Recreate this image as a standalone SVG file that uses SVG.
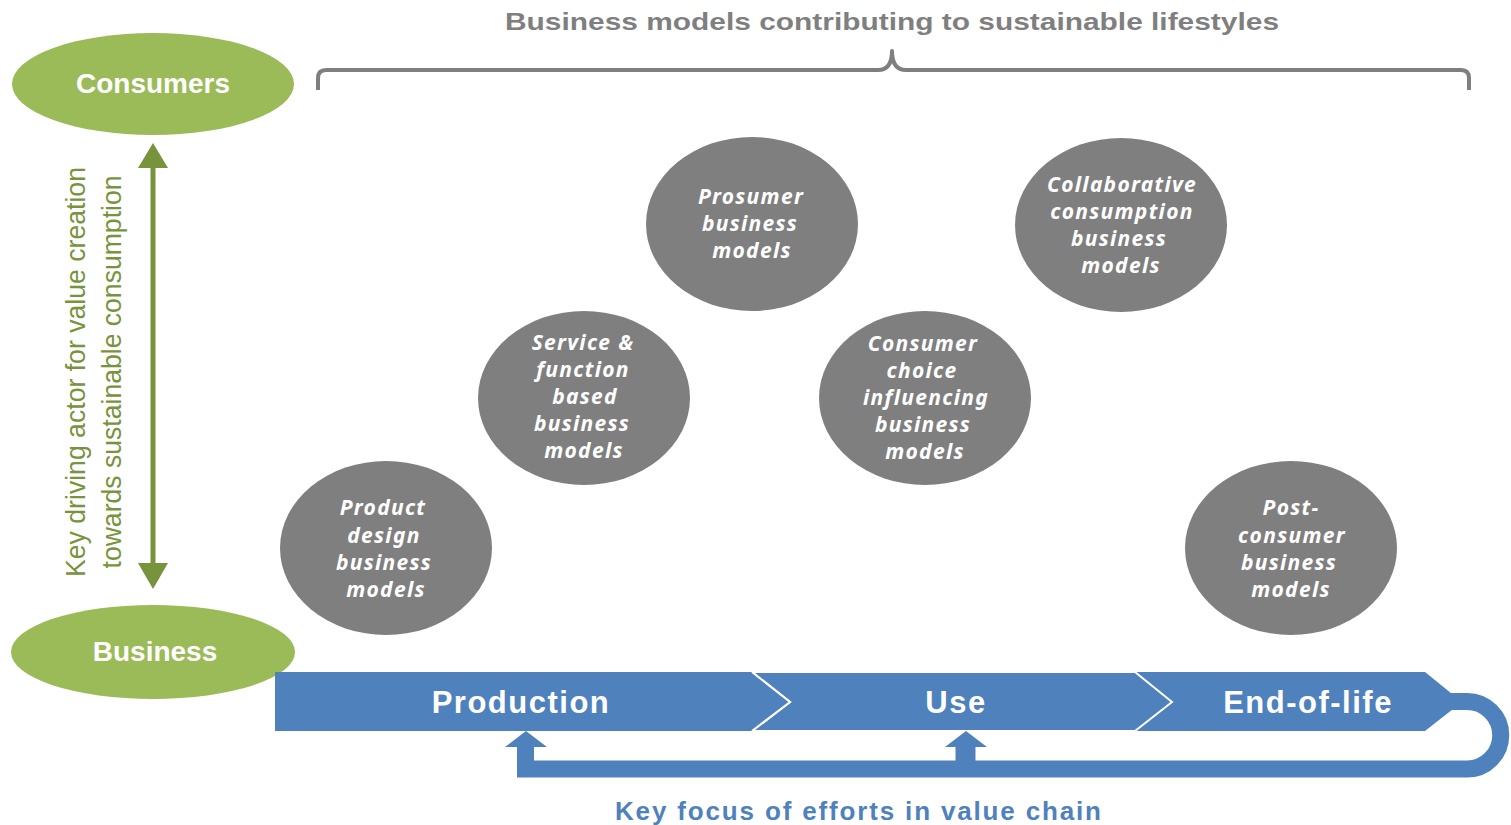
<svg xmlns="http://www.w3.org/2000/svg" width="1511" height="825" viewBox="0 0 1511 825">
<style>
.bg{fill:#ffffff}
.green{fill:#9bbb59}
.actor{font-family:"Liberation Sans",Arial,sans-serif;font-weight:bold;font-size:28px;fill:#ffffff;text-anchor:middle}
.circ{fill:#7f7f7f}
.ct{font-family:"Noto Sans","Open Sans",sans-serif;font-weight:bold;font-style:italic;font-size:21px;letter-spacing:1.3px;fill:#ffffff;text-anchor:middle}
.seg{fill:#4f81bd;stroke:#ffffff;stroke-width:2}
.st{font-family:"Liberation Sans",Arial,sans-serif;font-weight:bold;font-size:31px;fill:#ffffff;text-anchor:middle;letter-spacing:1.5px}
.vt{font-family:"Liberation Sans",Arial,sans-serif;font-size:27px;fill:#77933c;text-anchor:middle}
.band{fill:none;stroke:#4f81bd;stroke-width:17}
.bluehead{fill:#4f81bd}
</style>
<rect class="bg" x="0" y="0" width="1511" height="825"/>

<g id="title">
<text x="892" y="30" font-family="'Liberation Sans',Arial,sans-serif" font-weight="bold" font-size="24" fill="#7f7f7f" text-anchor="middle" textLength="774" lengthAdjust="spacingAndGlyphs">Business models contributing to sustainable lifestyles</text>
<path d="M318,90 V78 Q318,70 326,70 H878 Q892,70 892,51 Q892,70 906,70 H1461 Q1469,70 1469,78 V90" fill="none" stroke="#7f7f7f" stroke-width="4" stroke-linejoin="round"/>
</g>

<g id="consumers">
<ellipse class="green" cx="153" cy="84" rx="141" ry="51"/>
<text class="actor" x="153" y="93">Consumers</text>
</g>
<g id="business">
<ellipse class="green" cx="153" cy="652" rx="142" ry="47"/>
<text class="actor" x="155" y="661">Business</text>
</g>

<g id="actor-axis">
<line x1="153" y1="165" x2="153" y2="566" stroke="#77933c" stroke-width="5"/>
<polygon points="153,143 168,168 138,168" fill="#77933c"/>
<polygon points="153,589 168,563 138,563" fill="#77933c"/>
<text class="vt" transform="translate(85,372) rotate(-90)" textLength="410" lengthAdjust="spacingAndGlyphs">Key driving actor for value creation</text>
<text class="vt" transform="translate(121,372) rotate(-90)" textLength="393" lengthAdjust="spacingAndGlyphs">towards sustainable consumption</text>
</g>

<g id="prosumer">
<ellipse class="circ" cx="752" cy="224" rx="106" ry="87"/>
<text class="ct" x="751" y="204">Prosumer</text>
<text class="ct" x="750" y="231">business</text>
<text class="ct" x="752" y="258">models</text>
</g>
<g id="collaborative">
<ellipse class="circ" cx="1121" cy="225" rx="106" ry="87"/>
<text class="ct" x="1122" y="192">Collaborative</text>
<text class="ct" x="1122" y="219">consumption</text>
<text class="ct" x="1119" y="246">business</text>
<text class="ct" x="1121" y="273">models</text>
</g>
<g id="service">
<ellipse class="circ" cx="584" cy="398" rx="106" ry="87"/>
<text class="ct" x="583" y="350">Service &amp;</text>
<text class="ct" x="583" y="377">function</text>
<text class="ct" x="585" y="404">based</text>
<text class="ct" x="582" y="431">business</text>
<text class="ct" x="584" y="458">models</text>
</g>
<g id="consumer-choice">
<ellipse class="circ" cx="925" cy="398" rx="106" ry="87"/>
<text class="ct" x="923" y="351">Consumer</text>
<text class="ct" x="922" y="378">choice</text>
<text class="ct" x="926" y="405">influencing</text>
<text class="ct" x="923" y="432">business</text>
<text class="ct" x="925" y="459">models</text>
</g>
<g id="product-design">
<ellipse class="circ" cx="386" cy="548" rx="106" ry="87"/>
<text class="ct" x="383" y="515">Product</text>
<text class="ct" x="384" y="543">design</text>
<text class="ct" x="384" y="570">business</text>
<text class="ct" x="386" y="597">models</text>
</g>
<g id="post-consumer">
<ellipse class="circ" cx="1291" cy="548" rx="106" ry="87"/>
<text class="ct" x="1291" y="515">Post-</text>
<text class="ct" x="1292" y="543">consumer</text>
<text class="ct" x="1289" y="570">business</text>
<text class="ct" x="1291" y="597">models</text>
</g>

<g id="end-of-life">
<polygon points="1135,672 1425,672 1462,702 1425,731 1135,731 1172,702" fill="#4f81bd"/>
<text class="st" x="1308" y="713">End-of-life</text>
</g>
<g id="use">
<polygon class="seg" points="752,672 1135,672 1172,702 1135,731 752,731 790,702"/>
<text class="st" x="956" y="713">Use</text>
</g>
<g id="production">
<polygon points="275,672 752,672 790,702 752,731 275,731" fill="#4f81bd"/>
<polyline points="752,672 790,702 752,731" fill="none" stroke="#ffffff" stroke-width="2"/>
<text class="st" x="521" y="713">Production</text>
</g>

<g id="connectors">
<path class="band" d="M1450,701.5 H1467 A33.75,33.75 0 0 1 1467,769 H525.5 V746"/>
<line x1="965.5" y1="769" x2="965.5" y2="746" stroke="#4f81bd" stroke-width="20"/>
<polygon class="bluehead" points="526,731 547,747 505,747"/>
<polygon class="bluehead" points="966,731 987,747 945,747"/>
</g>

<g id="footer">
<text x="858" y="820" font-family="'Liberation Sans',Arial,sans-serif" font-weight="bold" font-size="26" fill="#4f81bd" text-anchor="middle" textLength="486" lengthAdjust="spacing">Key focus of efforts in value chain</text>
</g>
</svg>
